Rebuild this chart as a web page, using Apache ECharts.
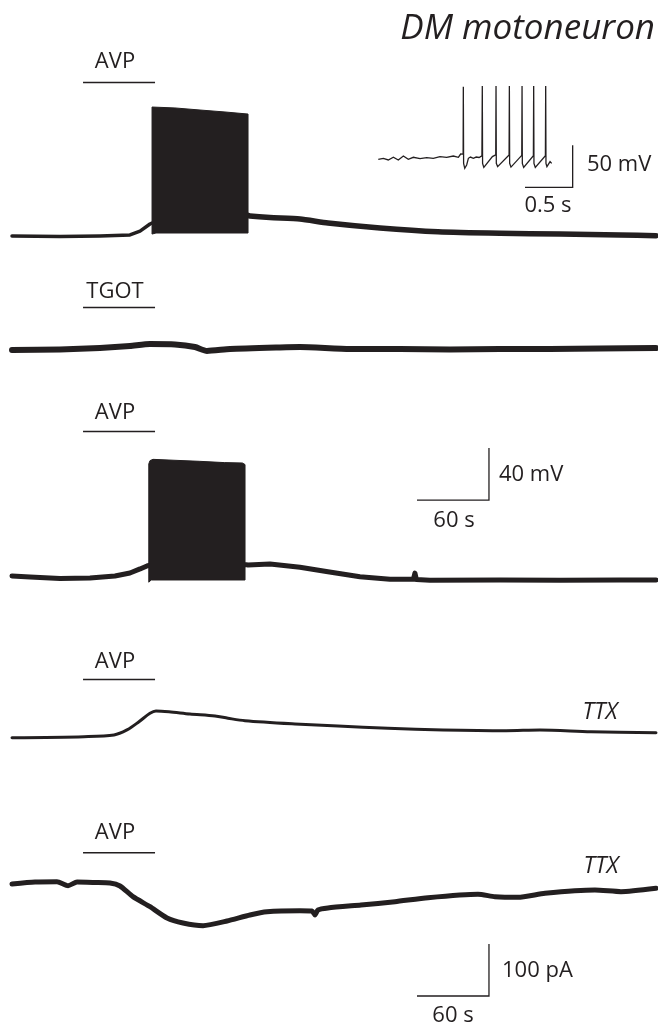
<!DOCTYPE html>
<html><head><meta charset="utf-8">
<script src="https://cdn.jsdelivr.net/npm/echarts@6/dist/echarts.min.js"></script>
<style>html,body{margin:0;padding:0;background:#fff}#c{width:658px;height:1024px}</style>
</head><body><div id="c"></div>
<script>
// ---- data (time in s, membrane potential in mV, current in pA) ----
const drugOn = 59.2, drugOff = 119.2;           // drug application bar (s)
const drugLabels = ['AVP','TGOT','AVP','AVP','AVP'];

const trace1Pre = [[0,-60],[40,-60.4],[73.3,-60],[98.3,-59.2],[106.7,-56.2],[115,-50.8],[116.7,-50]];
const trace1Post = [[196,-44],[198.3,-44.6],[215,-45.8],[240,-46.9],[263.3,-50],[306.7,-53.8],[355,-56.7],[406.7,-57.9],[456.7,-58.5],[506.7,-59.2],[536.7,-59.8]];
const burst1Top = [[116.7,39.2],[135.8,38.5],[156.7,36.9],[177.5,35.4],[196.7,33.8]];
const burst1Bottom = [[116.7,-58.5],[120,-57.7],[196.7,-57.7]];

const trace2 = [[0,-60.8],[40,-60.4],[73.3,-59.2],[98.3,-57.7],[115,-56.2],[135.8,-56.5],[152.5,-58.5],[162.5,-61.5],[181.7,-60],[223.3,-58.8],[240,-58.5],[281.7,-60],[323.3,-60],[365,-60.4],[406.7,-60],[448.3,-60],[490,-59.6],[536.7,-59.2]];

const trace3 = [[0,-59.2],[15,-60],[40,-61.2],[65,-60.8],[85.8,-59.2],[98.3,-56.9],[106.7,-53.8],[112.5,-51.5],[114.2,-51],[195,-50.5],[196.7,-50.8],[215,-50],[240,-52.5],[263.3,-56],[290,-59.8],[315,-61.8],[334.5,-61.8],[335.8,-57],[337,-62],[348.3,-62.5],[406.7,-62.3],[456.7,-62.5],[506.7,-62.3],[536.7,-62.3]];
const burst3Top = [[114,27],[115,29.5],[117.5,30.5],[135,29.8],[156,29],[177,28],[192,27.7],[194.2,26.5]];
const burst3Bottom = [[114,-64],[116,-62.3],[194.2,-62.3]];

const trace4 = [[0,-59.8],[60,-59],[85,-57.7],[95.8,-53.8],[105.8,-47.5],[115,-41],[120,-39.2],[130.8,-39.8],[148.3,-41.5],[169.2,-43.1],[180,-44.8],[194.2,-46.7],[235.8,-49.2],[271.7,-50.8],[313.3,-52.5],[359.2,-53.8],[411.7,-54.4],[440,-53.8],[482.5,-55.2],[536.7,-55.9]];

const trace5 = [[0,-1.9],[19.2,1.9],[37.5,2.5],[46.7,-5.2],[54.2,1.9],[69.2,1],[81.7,0],[90,-5.8],[100.8,-26.3],[115,-45.6],[129.2,-67.3],[142.5,-76.9],[159.2,-82.1],[179.2,-73.1],[198.3,-61.5],[212.5,-55.2],[240,-53.3],[250,-53.8],[252.5,-61.5],[255,-51.9],[263.3,-48.1],[290.8,-42.3],[319.2,-36],[346.7,-28.3],[388.3,-21.7],[402.5,-26.3],[421.7,-27.5],[444.2,-19.8],[485.8,-13.5],[507.5,-16.7],[536.7,-10.2]];

// inset: expanded burst onset (time in s, mV)
const inset = [[0.003,-61.2],[0.056,-60],[0.108,-62],[0.161,-58.8],[0.213,-62],[0.266,-57.3],[0.318,-61.2],[0.371,-58.8],[0.441,-60.4],[0.511,-59.2],[0.58,-60],[0.65,-58.1],[0.72,-58.8],[0.79,-57.3],[0.843,-58.8],[0.867,-54.9],[0.893,-55],
 [0.895,25.3],[0.898,-66],[0.91,-71.9],[0.93,-68],[0.948,-60],[0.97,-58.5],[1.0,-60],[1.03,-58.5],[1.06,-59],[1.09,-57],
 [1.094,26.1],[1.097,-66],[1.11,-70.8],[1.2,-58],[1.235,-56],
 [1.238,26.1],[1.241,-66],[1.255,-70],[1.375,-56],
 [1.378,26.1],[1.381,-66],[1.395,-70.5],[1.508,-56.5],
 [1.511,26.1],[1.514,-66],[1.528,-70.8],[1.63,-57],
 [1.633,26.1],[1.636,-66],[1.65,-71],[1.756,-57],
 [1.759,26.1],[1.762,-66],[1.772,-70],[1.787,-71.9],[1.805,-64],[1.822,-66]];

// scale bars
const scaleInset = [[1.542,-94.5],[2.042,-94.5],[2.042,-44.5]];   // 0.5 s, 50 mV
const scaleV = [[337.5,-0.8],[397.5,-0.8],[397.5,39.2]];          // 60 s, 40 mV
const scaleI = [[337.5,-217.3],[397.5,-217.3],[397.5,-117.3]];    // 60 s, 100 pA

// ---- layout ----
const INK = '#231f20';
const FONT = '"Open Sans", "Noto Sans", sans-serif';
const tMax = 536.7;
const grids = [
  {left:12, width:644, top:80,    height:169,   min:-70,  max:60,  bar:58},
  {left:12, width:644, top:303.5, height:58.5,  min:-70,  max:-25, bar:-28},
  {left:12, width:644, top:427.5, height:162.5, min:-70,  max:55,  bar:52},
  {left:12, width:644, top:673,   height:78,    min:-70,  max:-10, bar:-15},
  {left:12, width:644, top:851.8, height:145.6, min:-220, max:60,  bar:58},
  {left:378, width:200.2, top:74.3, height:117.6, min:-100, max:40}
];

const chart = echarts.init(document.getElementById('c'), null, {renderer:'canvas'});

const gridOpt = grids.map(g => ({left:g.left, top:g.top, width:g.width, height:g.height, containLabel:false}));
const xAxes = grids.map((g,i) => ({type:'value', gridIndex:i, min:0, max: i===5 ? 2.1 : tMax, show:false}));
const yAxes = grids.map((g,i) => ({type:'value', gridIndex:i, min:g.min, max:g.max, show:false}));

function line(data, idx, width, extra) {
  return Object.assign({type:'line', xAxisIndex:idx, yAxisIndex:idx, data:data, showSymbol:false, symbol:'none',
    lineStyle:{color:INK, width:width, join:'round', cap:'round'}, silent:true, z:3}, extra||{});
}
function burst(top, bottom, idx) {
  return {type:'custom', xAxisIndex:idx, yAxisIndex:idx, data:[[top[0][0], top[0][1]]], silent:true, z:4,
    renderItem:function(params, api){
      const pts = top.map(p => api.coord(p)).concat(bottom.slice().reverse().map(p => api.coord(p)));
      return {type:'polygon', shape:{points:pts}, style:{fill:INK, stroke:INK, lineWidth:1}};
    }};
}
const thin = w => ({lineStyle:{color:INK, width:w, cap:'butt', join:'miter'}});

const series = [
  line(trace1Pre, 0, 3.5), line(trace1Post, 0, 5.5, {smooth:0.2}), burst(burst1Top, burst1Bottom, 0),
  line(trace2, 1, 6, {smooth:0.2}),
  line(trace3, 2, 5), burst(burst3Top, burst3Bottom, 2),
  line(trace4, 3, 3, {smooth:0.3}),
  line(trace5, 4, 5, {smooth:0.2}),
  line(inset, 5, 1.3, thin(1.3)),
  line(scaleInset, 5, 1.3, thin(1.3)),
  line(scaleV, 2, 1.3, thin(1.3)),
  line(scaleI, 4, 1.3, thin(1.3))
];
// drug application bars
for (let i = 0; i < 5; i++) {
  series.push(line([[drugOn, grids[i].bar],[drugOff, grids[i].bar]], i, 1.5, thin(1.5)));
}

function txt(s, x, y, opt) {
  return {type:'text', x:x, y:y, silent:true,
    style:Object.assign({text:s, fill:INK, font:'22px ' + FONT, textAlign:'center', textVerticalAlign:'middle'}, opt||{})};
}
const labelY = [62, 292, 413, 662, 833];
const graphics = [
  txt('DM motoneuron', 655, 29, {textAlign:'right', font:'italic 35px ' + FONT}),
  txt('50 mV', 587, 165, {textAlign:'left'}),
  txt('0.5 s', 548, 206),
  txt('40 mV', 499, 475, {textAlign:'left'}),
  txt('60 s', 454, 521),
  txt('100 pA', 502, 971, {textAlign:'left'}),
  txt('60 s', 453, 1016),
  txt('TTX', 600, 712, {font:'italic 23px ' + FONT}),
  txt('TTX', 601, 866, {font:'italic 23px ' + FONT})
];
drugLabels.forEach((s,i) => graphics.push(txt(s, 115, labelY[i])));

chart.setOption({
  animation:false,
  backgroundColor:'#ffffff',
  grid:gridOpt, xAxis:xAxes, yAxis:yAxes,
  series:series,
  graphic:graphics
});
</script></body></html>
